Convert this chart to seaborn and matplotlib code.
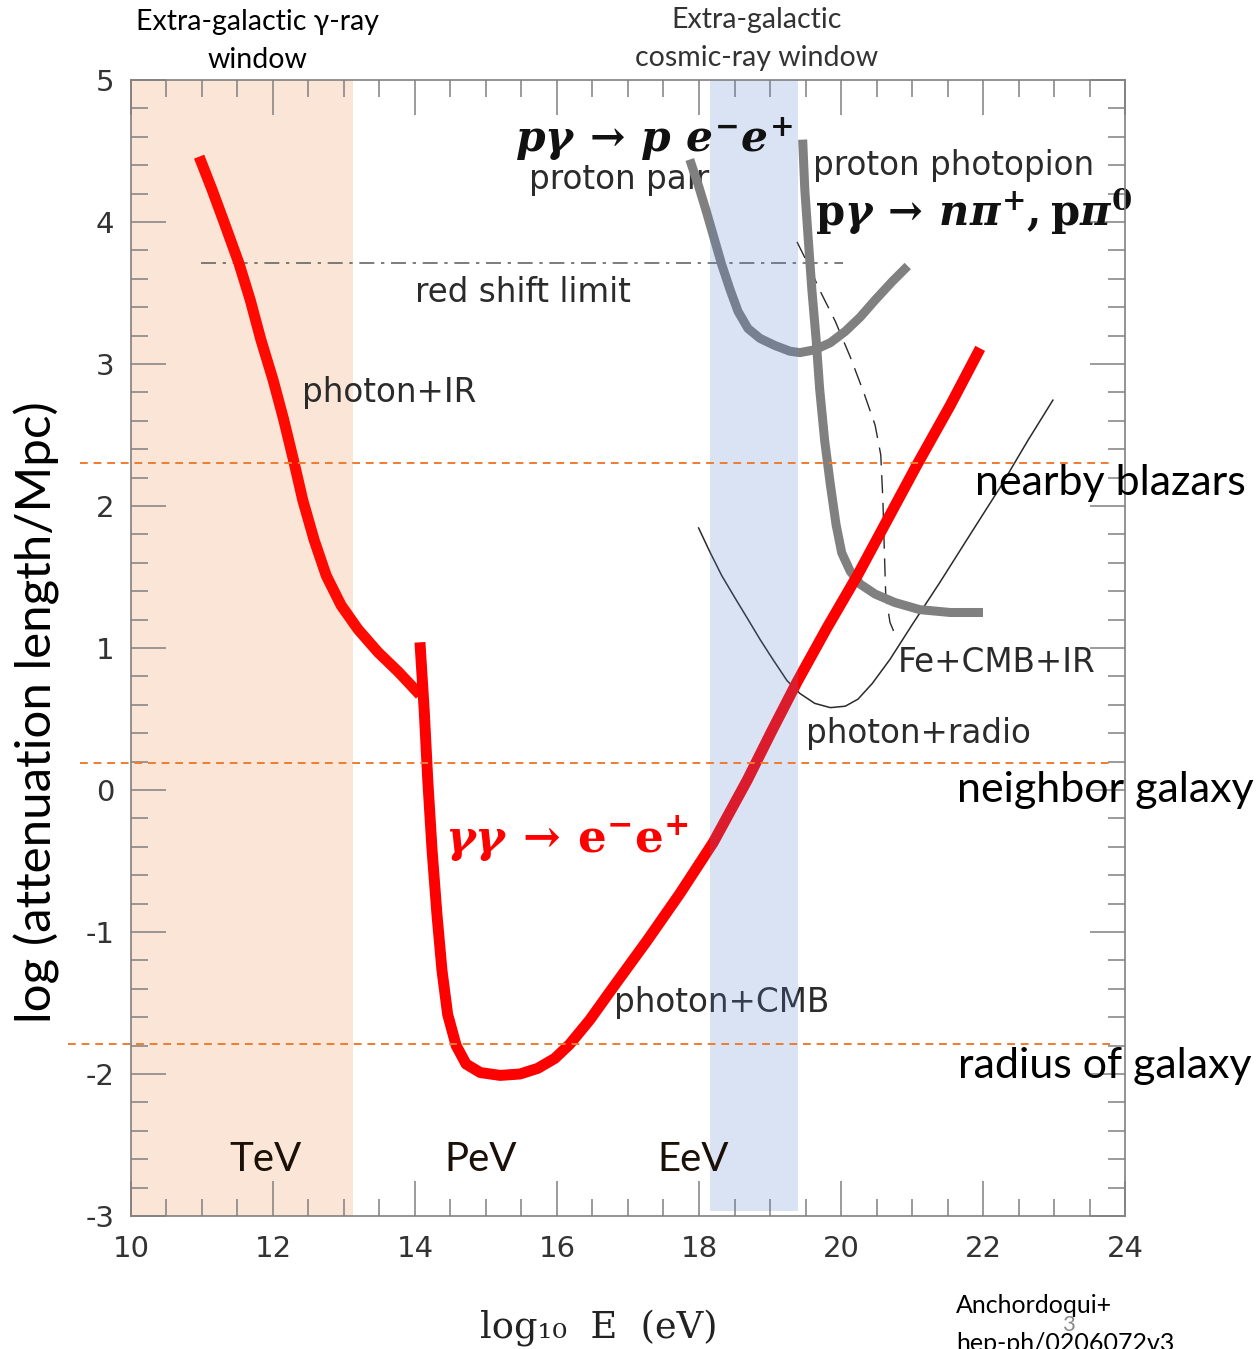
import matplotlib
matplotlib.use("Agg")
import matplotlib.pyplot as plt
from matplotlib.ticker import MultipleLocator
import seaborn as sns

# ---- curves: log10(E / eV) vs log10(attenuation length / Mpc) ----
gamma_ir_x = [10.96, 11.14, 11.31, 11.52, 11.68, 11.83, 12.00, 12.15, 12.30, 12.42, 12.58,
              12.75, 12.96, 13.20, 13.48, 13.77, 14.07]
gamma_ir_y = [4.46, 4.23, 4.00, 3.71, 3.45, 3.17, 2.89, 2.61, 2.30, 2.04, 1.76,
              1.51, 1.30, 1.13, 0.97, 0.83, 0.67]

gamma_cmb_x = [14.07, 14.13, 14.18, 14.24, 14.31, 14.38, 14.46, 14.58, 14.72, 14.92, 15.20,
               15.48, 15.73, 15.97, 16.18, 16.46, 16.79, 17.27, 17.73, 18.20, 18.68, 19.03,
               19.38, 19.80, 20.23, 20.65, 21.07, 21.54, 21.96]
gamma_cmb_y = [1.04, 0.56, 0.07, -0.42, -0.88, -1.27, -1.58, -1.80, -1.93, -1.99, -2.01,
               -2.00, -1.96, -1.89, -1.79, -1.62, -1.39, -1.06, -0.73, -0.37, 0.07, 0.42,
               0.76, 1.14, 1.51, 1.90, 2.29, 2.71, 3.11]

proton_pair_x = [17.87, 17.99, 18.10, 18.21, 18.32, 18.44, 18.55, 18.69, 18.86, 19.07,
                 19.28, 19.42, 19.63, 19.85, 20.06, 20.27, 20.48, 20.72, 20.94]
proton_pair_y = [4.44, 4.26, 4.08, 3.89, 3.70, 3.52, 3.37, 3.25, 3.18, 3.13,
                 3.09, 3.08, 3.10, 3.15, 3.23, 3.33, 3.45, 3.58, 3.69]

photopion_x = [19.46, 19.49, 19.54, 19.59, 19.65, 19.70, 19.77, 19.85, 19.93, 20.01,
               20.13, 20.27, 20.48, 20.76, 21.11, 21.54, 22.00]
photopion_y = [4.58, 4.23, 3.87, 3.52, 3.17, 2.82, 2.46, 2.15, 1.87, 1.67,
               1.54, 1.45, 1.38, 1.32, 1.27, 1.25, 1.25]

fe_x = [19.38, 19.54, 19.70, 19.92, 20.13, 20.32, 20.48, 20.56, 20.59, 20.61, 20.63, 20.69, 20.79]
fe_y = [3.86, 3.70, 3.52, 3.30, 3.05, 2.80, 2.57, 2.36, 2.04, 1.69, 1.37, 1.18, 1.06]

radio_x = [17.99, 18.15, 18.32, 18.51, 18.68, 18.86, 19.04, 19.24, 19.42, 19.63, 19.85,
           20.06, 20.24, 20.44, 20.69, 21.01, 21.39, 21.82, 22.24, 22.63, 22.99]
radio_y = [1.85, 1.68, 1.51, 1.35, 1.21, 1.06, 0.92, 0.77, 0.68, 0.61, 0.58,
           0.59, 0.64, 0.75, 0.92, 1.17, 1.46, 1.80, 2.13, 2.46, 2.75]

redshift_x = [10.99, 20.03]
redshift_y = [3.71, 3.71]

# distance scales (log Mpc) marked by dashed guides
scale_levels = [2.30, 0.19, -1.79]
scale_labels = ["nearby blazars", "neighbor galaxy", "radius of galaxy"]
scale_x_start = [9.28, 9.28, 9.11]

# energy windows (log10 E)
gamma_window = [10.0, 13.13]
cr_window = [18.15, 19.39]

energy_names = ["TeV", "PeV", "EeV"]
energy_name_x = [11.89, 14.92, 17.92]

x_ticks = [10, 12, 14, 16, 18, 20, 22, 24]
y_ticks = [-3, -2, -1, 0, 1, 2, 3, 4, 5]

sns.set_theme(style="ticks")
plt.rcParams["font.family"] = ["DejaVu Sans"]
plt.rcParams["axes.unicode_minus"] = False
plt.rcParams["mathtext.fontset"] = "custom"
plt.rcParams["mathtext.it"] = "DejaVu Serif:italic:bold"
plt.rcParams["mathtext.rm"] = "DejaVu Serif:bold"
plt.rcParams["mathtext.bf"] = "DejaVu Serif:bold"

CAL = ["Lato", "DejaVu Sans"]

fig = plt.figure(figsize=(12.57, 13.49), dpi=100)
ax = fig.add_axes([0.1042, 0.0986, 0.7908, 0.8421])
ax.set_facecolor("white")
ax.set_xlim(10, 24)
ax.set_ylim(-3, 5)

# gamma-ray window underneath everything
ax.axvspan(gamma_window[0], gamma_window[1], color="#fbe5d6", zorder=0, lw=0)

# thin reference curves
sns.lineplot(x=radio_x, y=radio_y, ax=ax, color="#2a2a2a", linewidth=1.1,
             sort=False, estimator=None, zorder=3)
sns.lineplot(x=fe_x, y=fe_y, ax=ax, color="#2a2a2a", linewidth=1.0,
             linestyle=(0, (13, 7)), sort=False, estimator=None, zorder=3)
sns.lineplot(x=redshift_x, y=redshift_y, ax=ax, color="#666666", linewidth=1.2,
             linestyle=(0, (9, 4, 2, 4)), sort=False, estimator=None, zorder=3)

# in-axes process labels (drawn beneath the thick curves)
lab_kw = dict(fontsize=23.5, color="#2b2b2b", va="center", ha="left", zorder=4)
ax.text(12.41, 2.80, "photon+IR", **lab_kw)
ax.text(14.00, 3.50, "red shift limit", **lab_kw)
ax.text(15.61, 4.30, "proton pair", **lab_kw)
ax.text(19.61, 4.40, "proton photopion", **lab_kw)
ax.text(20.80, 0.90, "Fe+CMB+IR", **lab_kw)
ax.text(19.51, 0.40, "photon+radio", **lab_kw)
ax.text(16.80, -1.50, "photon+CMB", **lab_kw)

# thick curves
sns.lineplot(x=proton_pair_x, y=proton_pair_y, ax=ax, color="#808080", linewidth=6.5,
             sort=False, estimator=None, zorder=5)
sns.lineplot(x=photopion_x, y=photopion_y, ax=ax, color="#808080", linewidth=6.5,
             sort=False, estimator=None, zorder=5)
sns.lineplot(x=gamma_ir_x, y=gamma_ir_y, ax=ax, color="#ff0a00", linewidth=7.9,
             sort=False, estimator=None, zorder=6)
sns.lineplot(x=gamma_cmb_x, y=gamma_cmb_y, ax=ax, color="#ff0000", linewidth=7.9,
             sort=False, estimator=None, zorder=6)
for ln in ax.get_lines():
    ln.set_solid_capstyle("butt")
    ln.set_solid_joinstyle("round")

# cosmic-ray window laid over the curves
ax.axvspan(cr_window[0], cr_window[1], ymin=0.0044, ymax=1.0,
           color=(0.34, 0.50, 0.79), alpha=0.22, zorder=7, lw=0)

# reaction labels
ax.text(15.41, 4.58, r"$p\gamma\,\rightarrow\,p\ e^{-}e^{+}$", fontsize=30.5,
        color="#111111", va="center", ha="left", zorder=8)
ax.text(19.63, 4.07, r"$\mathrm{p}\gamma\,\rightarrow\,n\pi^{+}, \mathrm{p}\pi^{0}$", fontsize=30,
        color="#111111", va="center", ha="left", zorder=8)
ax.text(14.42, -0.35, r"$\gamma\gamma\,\rightarrow\,\mathrm{e^{-}e^{+}}$", fontsize=32.5,
        color="#ff0000", va="center", ha="left", zorder=8)

# energy names
for name, xe in zip(energy_names, energy_name_x):
    ax.text(xe, -2.60, name, fontsize=29, family=CAL, color="#1a1008",
            ha="center", va="center", zorder=8)

# distance-scale guides extending beyond the frame
for lvl, x0 in zip(scale_levels, scale_x_start):
    ax.plot([x0, 23.79], [lvl, lvl], color="#ed7d31", linewidth=1.4,
            linestyle=(0, (4, 3)), clip_on=False, zorder=9)
scale_text_pos = [(0.7757, 0.642), (0.7613, 0.4144), (0.7621, 0.2098)]
for lab, (fx, fy) in zip(scale_labels, scale_text_pos):
    fig.text(fx, fy, lab, fontsize=31, family=CAL, color="black", ha="left", va="center", zorder=10)

# axes frame and ticks
for sp in ax.spines.values():
    sp.set_visible(True)
    sp.set_color("#808080")
    sp.set_linewidth(1.2)
    sp.set_zorder(9)
ax.set_xticks(x_ticks)
ax.set_yticks(y_ticks)
ax.set_xticklabels([str(v) for v in x_ticks])
ax.set_yticklabels([str(v) for v in y_ticks])
ax.xaxis.set_minor_locator(MultipleLocator(0.5))
ax.yaxis.set_minor_locator(MultipleLocator(0.2))
ax.tick_params(which="both", direction="in", top=True, right=True,
               color="#808080", width=1.1, labelcolor="#333333", labelsize=21)
ax.tick_params(which="major", length=25)
ax.tick_params(which="minor", length=12.5)
ax.tick_params(axis="x", pad=14)
ax.tick_params(axis="y", pad=12)
ax.set_xlabel("")
ax.set_ylabel("")

# axis titles
fig.text(37 / 1257, 0.472, "log (attenuation length/Mpc)", rotation=90, fontsize=35.5,
         family=CAL, color="black", ha="center", va="center")
fig.text(0.476, 0.0163, "log\u2081\u2080  E  (eV)", fontsize=26.5, family="DejaVu Serif",
         color="#222222", ha="center", va="center")

# window captions
fig.text(0.2045, 0.9837, "Extra-galactic \u03b3-ray", fontsize=20.5, family=CAL,
         color="black", ha="center", va="center")
fig.text(0.2045, 0.9555, "window", fontsize=20.5, family=CAL, color="black",
         ha="center", va="center")
fig.text(0.6022, 0.9852, "Extra-galactic", fontsize=20.5, family=CAL, color="#333333",
         ha="center", va="center")
fig.text(0.6022, 0.957, "cosmic-ray window", fontsize=20.5, family=CAL, color="#333333",
         ha="center", va="center")

# reference
fig.text(0.7606, 0.0319, "Anchordoqui+", fontsize=18, family=CAL, color="black",
         ha="left", va="center")
fig.text(0.7606, 0.004, "hep-ph/0206072v3", fontsize=18, family=CAL, color="black",
         ha="left", va="center")
fig.text(0.8497, 0.0178, "3", fontsize=16, family=CAL, color="#8a8a8a",
         ha="center", va="center")

fig.savefig("out.png", dpi=100, facecolor="white")
